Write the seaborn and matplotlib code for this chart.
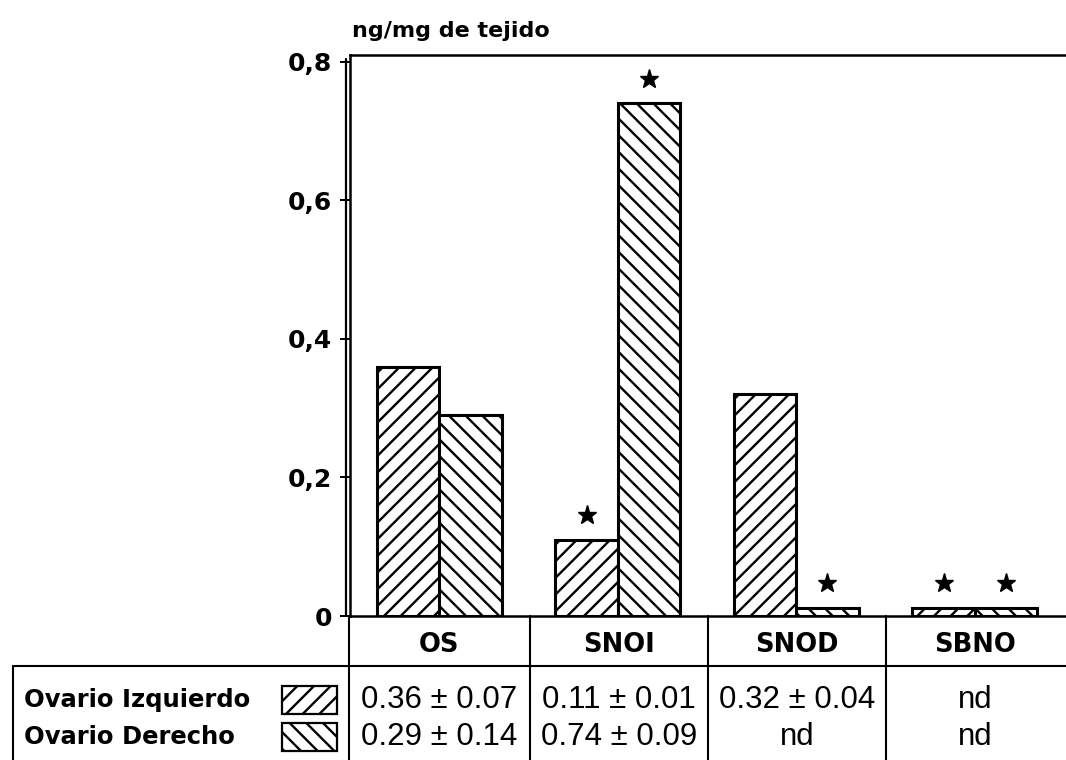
import numpy as np
import pandas as pd
import matplotlib.pyplot as plt
import seaborn as sns
from matplotlib.patches import Rectangle
from matplotlib.lines import Line2D

# datos (ng/mg de tejido)
grupos = ['OS', 'SNOI', 'SNOD', 'SBNO']
ovarios = ['Ovario Izquierdo', 'Ovario Derecho']
izquierdo = [0.36, 0.11, 0.32, 0.012]
derecho = [0.29, 0.74, 0.012, 0.012]
tabla_izq = ['0.36 ± 0.07', '0.11 ± 0.01', '0.32 ± 0.04', 'nd']
tabla_der = ['0.29 ± 0.14', '0.74 ± 0.09', 'nd', 'nd']
# asteriscos: (grupo, ovario)
signif = [(1, 0), (1, 1), (2, 1), (3, 0), (3, 1)]
yticks = [0, 0.2, 0.4, 0.6, 0.8]
ylabels = ['0', '0,2', '0,4', '0,6', '0,8']

df = pd.DataFrame({
    'grupo': grupos * 2,
    'ovario': [ovarios[0]] * 4 + [ovarios[1]] * 4,
    'valor': izquierdo + derecho,
})

sns.set_style('white')
plt.rcParams['font.family'] = ['DejaVu Sans']
plt.rcParams['text.color'] = 'black'
plt.rcParams['ytick.color'] = 'black'
plt.rcParams['ytick.labelcolor'] = 'black'
plt.rcParams['hatch.linewidth'] = 1.7

W, H = 1066, 760
fig = plt.figure(figsize=(W / 100, H / 100), dpi=100)

x0, x1 = 350, 1064
y_top, y_zero = 55, 616
ax = fig.add_axes([x0 / W, 1 - y_zero / H, (x1 - x0) / W, (y_zero - y_top) / H])

sns.barplot(data=df, x='grupo', y='valor', hue='ovario', order=grupos,
            hue_order=ovarios, width=0.7, palette=['white', 'white'],
            edgecolor='black', linewidth=2.2, legend=False, ax=ax)

hatches = ['//', '\\\\']
for cont, h in zip(ax.containers, hatches):
    for p in cont.patches:
        p.set_hatch(h)

# asteriscos de significacion
for g, o in signif:
    p = ax.containers[o].patches[g]
    ax.plot(p.get_x() + p.get_width() / 2, p.get_height() + 0.036, marker='*',
            color='black', markersize=14, clip_on=False)

ax.set_xlim(-0.5, 3.5)
ax.set_ylim(0, 0.81)
ax.set_yticks(yticks)
ax.set_yticklabels(ylabels, fontsize=18, fontweight='bold', color='black')
ax.set_xticks([])
ax.set_xlabel('')
ax.set_ylabel('')
ax.tick_params(axis='y', direction='out', length=7, width=1.4, left=True, pad=6)
for s in ['left', 'top', 'bottom']:
    ax.spines[s].set_linewidth(1.8)
    ax.spines[s].set_color('black')
ax.spines['right'].set_visible(False)
ax.spines['bottom'].set_bounds(-0.5, 3.6)
ax.spines['top'].set_bounds(-0.5, 3.6)

fig.text(352 / W, 1 - 31 / H, 'ng/mg de tejido', fontsize=16, fontweight='bold',
         ha='left', va='center', color='black')


def linea(xa, ya, xb, yb, lw=1.5):
    fig.add_artist(Line2D([xa / W, xb / W], [1 - ya / H, 1 - yb / H],
                          color='black', linewidth=lw))


# doble linea del eje vertical
linea(346, y_top + 4, 346, y_zero, lw=1.6)

# tabla inferior
cols = [349, 530, 708, 886, 1070]
y_fila1 = 666
linea(13, y_fila1, 1066, y_fila1)
linea(13, y_fila1, 13, 760)
for cx in cols[:-1]:
    linea(cx, y_zero, cx, 760)

for i, g in enumerate(grupos):
    cx = (cols[i] + cols[i + 1]) / 2 if i < 3 else 975
    fig.text(cx / W, 1 - 645 / H, g, fontsize=18.5, fontweight='bold',
             ha='center', va='center', color='black')

filas_y = [700, 737]
for fila, (nombre, valores, h) in enumerate(zip(ovarios, [tabla_izq, tabla_der], hatches)):
    fy = filas_y[fila]
    fig.text(24 / W, 1 - fy / H, nombre, fontsize=17.5, fontweight='bold',
             ha='left', va='center', color='black')
    fig.add_artist(Rectangle((282 / W, 1 - (fy + 14) / H), 55 / W, 28 / H,
                             transform=fig.transFigure, facecolor='white',
                             edgecolor='black', hatch=h, linewidth=1.6))
    for i, v in enumerate(valores):
        cx = (cols[i] + cols[i + 1]) / 2 if i < 3 else 975
        fig.text(cx / W, 1 - fy / H, v, fontsize=22.5, ha='center', va='center',
                 color='black', family=['Liberation Sans', 'DejaVu Sans'])

fig.savefig('out.png', dpi=100)
